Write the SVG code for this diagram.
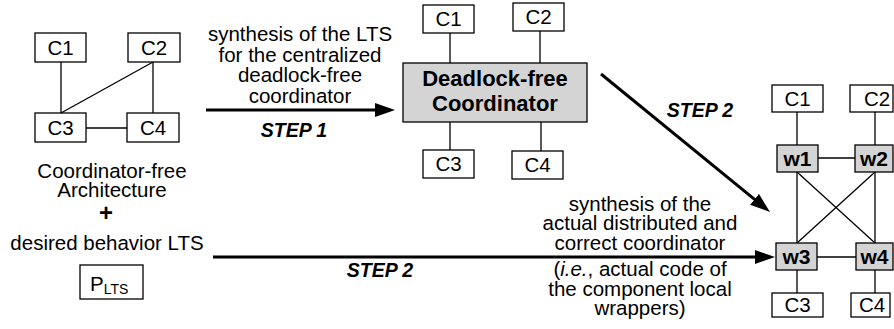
<svg xmlns="http://www.w3.org/2000/svg" width="894" height="329" viewBox="0 0 894 329">
<style>
text{font-family:"Liberation Sans",Arial,sans-serif;fill:#000}
.t{font-size:20.5px}
.c{text-anchor:middle}
.b{font-weight:bold}
.step{font-size:19.5px;font-weight:bold;font-style:italic;text-anchor:middle}
.box{fill:#fff;stroke:#000;stroke-width:1.3}
.gbox{fill:#d4d4d4;stroke:#000;stroke-width:1.3}
.ln{stroke:#000;stroke-width:1.3;fill:none}
.ar{stroke:#000;stroke-width:3;fill:none;marker-end:url(#ah)}
</style>
<defs>
<marker id="ah" markerUnits="userSpaceOnUse" markerWidth="22" markerHeight="16" refX="8" refY="7" orient="auto">
<path d="M0,0 L20,7 L0,14 z" fill="#000"/>
</marker>
</defs>
<rect width="894" height="329" fill="#fff"/>

<g id="connectors">
<!-- left cluster -->
<line class="ln" x1="61" y1="62" x2="61" y2="113"/>
<line class="ln" x1="153" y1="62" x2="153" y2="113"/>
<line class="ln" x1="153" y1="62" x2="61" y2="113"/>
<line class="ln" x1="86" y1="128" x2="127" y2="128"/>
<!-- center cluster -->
<line class="ln" x1="450" y1="33" x2="450" y2="63"/>
<line class="ln" x1="540" y1="31" x2="540" y2="63"/>
<line class="ln" x1="450" y1="122" x2="450" y2="150"/>
<line class="ln" x1="541" y1="122" x2="541" y2="151"/>
<!-- right cluster -->
<line class="ln" x1="797" y1="112" x2="797" y2="145"/>
<line class="ln" x1="875" y1="112" x2="875" y2="145"/>
<line class="ln" x1="818" y1="158" x2="855" y2="158"/>
<line class="ln" x1="797" y1="172" x2="797" y2="243"/>
<line class="ln" x1="875" y1="172" x2="875" y2="243"/>
<line class="ln" x1="797" y1="172" x2="875" y2="243"/>
<line class="ln" x1="875" y1="172" x2="797" y2="243"/>
<line class="ln" x1="817" y1="257" x2="856" y2="257"/>
<line class="ln" x1="797" y1="270" x2="797" y2="293"/>
<line class="ln" x1="875" y1="270" x2="875" y2="293"/>
<!-- arrows -->
<line class="ar" x1="206" y1="110" x2="383" y2="110"/>
<line class="ar" x1="601" y1="74" x2="760.7" y2="204.4"/>
<line class="ar" x1="213" y1="257" x2="763" y2="257"/>
</g>

<!-- left cluster nodes -->
<g id="L_C1"><rect class="box" x="35" y="33" width="51" height="29"/><text class="t c" x="60.5" y="55">C1</text></g>
<g id="L_C2"><rect class="box" x="128" y="33" width="52" height="29"/><text class="t c" x="154" y="55">C2</text></g>
<g id="L_C3"><rect class="box" x="35" y="113" width="51" height="29"/><text class="t c" x="60.5" y="135">C3</text></g>
<g id="L_C4"><rect class="box" x="127" y="113" width="52" height="29"/><text class="t c" x="153" y="135">C4</text></g>

<g id="left_labels">
<text class="t c" x="112" y="178">Coordinator-free</text>
<text class="t c" x="112" y="197">Architecture</text>
<text class="c b" x="106" y="221" style="font-size:24px">+</text>
<text class="t c" x="107" y="250">desired behavior LTS</text>
</g>
<g id="P_LTS"><rect class="box" x="80" y="265" width="63" height="34"/><text class="t" x="90" y="291">P<tspan style="font-size:14px" dy="3">LTS</tspan></text></g>

<!-- step 1 label -->
<g id="label_step1">
<text class="t c" x="300" y="41">synthesis of the LTS</text>
<text class="t c" x="300" y="62">for the centralized</text>
<text class="t c" x="300" y="82">deadlock-free</text>
<text class="t c" x="300" y="103">coordinator</text>
<text class="step" x="294" y="137">STEP 1</text>
</g>

<!-- center cluster -->
<g id="M_C1"><rect class="box" x="423" y="5" width="51" height="28"/><text class="t c" x="448.5" y="26">C1</text></g>
<g id="M_C2"><rect class="box" x="513" y="3" width="51" height="28"/><text class="t c" x="538.5" y="24">C2</text></g>
<g id="M_coord"><rect class="gbox" x="403" y="63" width="184" height="59"/>
<text class="c b" x="495" y="86" style="font-size:22px">Deadlock-free</text>
<text class="c b" x="495" y="111" style="font-size:22px">Coordinator</text></g>
<g id="M_C3"><rect class="box" x="423" y="150" width="51" height="28"/><text class="t c" x="448.5" y="171">C3</text></g>
<g id="M_C4"><rect class="box" x="512" y="151" width="51" height="28"/><text class="t c" x="537.5" y="172">C4</text></g>

<g id="label_step2_top"><text class="step" x="700" y="117">STEP 2</text></g>

<g id="label_step2_bottom">
<text class="t c" x="640" y="211">synthesis of the</text>
<text class="t c" x="640" y="230">actual distributed and</text>
<text class="t c" x="640" y="250">correct coordinator</text>
<text class="t c" x="640" y="276">(<tspan font-style="italic">i.e.</tspan>, actual code of</text>
<text class="t c" x="640" y="296">the component local</text>
<text class="t c" x="640" y="315">wrappers)</text>
<text class="step" x="380" y="277">STEP 2</text>
</g>

<!-- right cluster -->
<g id="R_C1"><rect class="box" x="772" y="85" width="51" height="27"/><text class="t c" x="797.5" y="106">C1</text></g>
<g id="R_C2"><rect class="box" x="850" y="85" width="43" height="27"/><text class="t c" x="877" y="106">C2</text></g>
<g id="R_w1"><rect class="gbox" x="777" y="145" width="41" height="27"/><text class="c b" x="797.5" y="166" style="font-size:21px">w1</text></g>
<g id="R_w2"><rect class="gbox" x="855" y="145" width="38" height="27"/><text class="c b" x="874" y="166" style="font-size:21px">w2</text></g>
<g id="R_w3"><rect class="gbox" x="776" y="243" width="41" height="27"/><text class="c b" x="796.5" y="264" style="font-size:21px">w3</text></g>
<g id="R_w4"><rect class="gbox" x="856" y="243" width="37" height="27"/><text class="c b" x="874.5" y="264" style="font-size:21px">w4</text></g>
<g id="R_C3"><rect class="box" x="772" y="293" width="51" height="24"/><text class="t c" x="797.5" y="312">C3</text></g>
<g id="R_C4"><rect class="box" x="851" y="293" width="39" height="24"/><text class="t c" x="872" y="312">C4</text></g>
</svg>
